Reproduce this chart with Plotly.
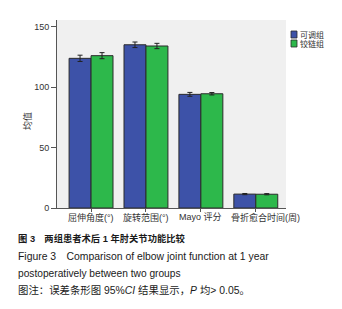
import plotly.graph_objects as go

categories = ["屈伸角度(°)", "旋转范围(°)", "Mayo 评分", "骨折愈合时间(周)"]
group_a_name = "可调组"
group_b_name = "铰链组"
group_a = [123.8, 135.0, 94.0, 11.5]
group_b = [126.0, 134.0, 94.5, 11.4]
group_a_err = [2.6, 2.3, 1.6, 0.5]
group_b_err = [2.5, 2.2, 1.0, 0.5]
y_ticks = [0, 50, 100, 150]
colors = ["#3d52a8", "#2db84b"]

OFF = 8  # default page body margin
W, H = 342 - OFF, 309 - OFF
L, T = 57 - OFF, 20 - OFF
R = W - (286 - OFF)
B = H - (208 - OFF)
PW, PH = W - L - R, H - T - B

def px(x):  # page pixel -> paper
    return (x - OFF - L) / PW

def py(y):
    return (H - B - (y - OFF)) / PH

font_fam = "Liberation Sans, Arial, Noto Sans CJK SC, sans-serif"

fig = go.Figure()
for name, vals, errs, col in [(group_a_name, group_a, group_a_err, colors[0]),
                              (group_b_name, group_b, group_b_err, colors[1])]:
    fig.add_trace(go.Bar(
        name=name, x=categories, y=vals,
        marker=dict(color=col, line=dict(color="#2b2b2b", width=1)),
        error_y=dict(type="data", array=errs, color="#222222", thickness=1, width=2.5),
    ))

fig.update_layout(
    width=W, height=H,
    margin=dict(l=L, r=R, t=T, b=B, pad=0, autoexpand=False),
    paper_bgcolor="white",
    plot_bgcolor="#f0f0f0",
    barmode="group", bargap=0.2, bargroupgap=0,
    font=dict(family=font_fam, size=9, color="#333333"),
    showlegend=False,
)
fig.update_xaxes(
    range=[-0.62, 3.55], showline=True, linecolor="#555555", linewidth=1,
    ticks="outside", ticklen=3, tickcolor="#555555", showgrid=False,
    showticklabels=False, automargin=False,
)
fig.update_yaxes(
    range=[0, 155.5], tickvals=y_ticks, showline=True, linecolor="#555555", linewidth=1,
    ticks="outside", ticklen=5, tickcolor="#555555", showgrid=False, zeroline=False,
    tickfont=dict(size=9, color="#333333"), automargin=False,
)

# category labels (last one nudged right as in the original)
label_shift = [0, 0, 0, 10]
for cat, sh in zip(categories, label_shift):
    fig.add_annotation(text=cat, x=cat, y=0, xref="x", yref="y",
                       xanchor="center", yanchor="top", yshift=-2, xshift=sh,
                       showarrow=False, font=dict(size=9, color="#333333"))

# y-axis title
fig.add_annotation(text="均值", x=px(27), y=py(121), xref="paper", yref="paper",
                   textangle=-90, showarrow=False, xanchor="center", yanchor="middle",
                   font=dict(size=9, color="#333333"))

# legend (manual, compact)
for i, (name, col) in enumerate([(group_a_name, colors[0]), (group_b_name, colors[1])]):
    yc = 34.5 + i * 9
    fig.add_shape(type="rect", xref="paper", yref="paper",
                  x0=px(291), x1=px(297), y0=py(yc + 3.5), y1=py(yc - 3.5),
                  fillcolor=col, line=dict(color="#2b2b2b", width=0.8))
    fig.add_annotation(text=name, x=px(298), y=py(yc), xref="paper", yref="paper",
                       xanchor="left", yanchor="middle", showarrow=False,
                       font=dict(size=8, color="#333333"))

captions = [
    ("<b>图 3　两组患者术后 1 年肘关节功能比较</b>", 239, 9.3),
    ("Figure 3　Comparison of elbow joint function at 1 year", 256, 10.4),
    ("postoperatively between two groups", 273, 10.2),
    ("图注：误差条形图 95%<i>CI</i> 结果显示，<i>P</i> 均> 0.05。", 290, 10.4),
]
for text, yy, fs in captions:
    fig.add_annotation(text=text, x=px(16), y=py(yy), xref="paper", yref="paper",
                       xanchor="left", yanchor="middle", showarrow=False,
                       font=dict(size=fs, color="#1a1a1a", family=font_fam))

fig.write_html("out.html")
